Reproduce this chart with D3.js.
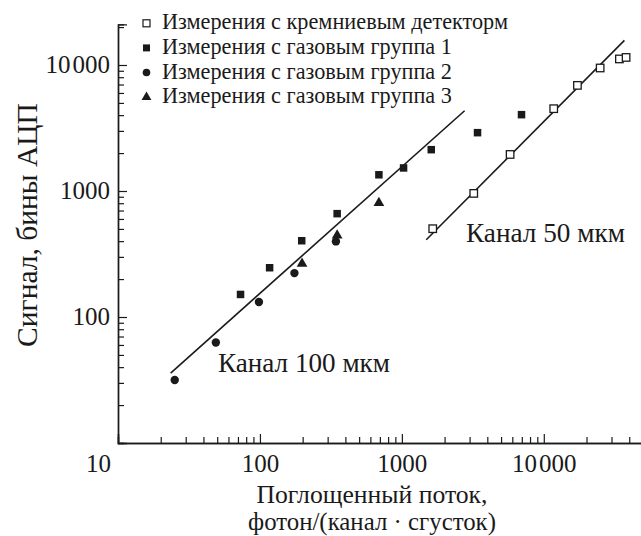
<!DOCTYPE html>
<html>
<head>
<meta charset="utf-8">
<script src="https://cdn.jsdelivr.net/npm/d3@7"></script>
<style>
  html, body { margin: 0; padding: 0; background: #fff; }
  svg { display: block; }
  svg text { font-family: "Liberation Serif", "Times New Roman", Times, serif !important; fill: #1a1a1a; }
</style>
</head>
<body>
<svg id="chart" width="641" height="536"></svg>
<script>
// Silicon detector measurements (open squares)
const siliconX = [1650, 3210, 5790, 11750, 17260, 24950, 34100, 38000];
const siliconY = [502, 957, 1950, 4500, 6890, 9470, 11170, 11480];
// Gas detector, group 1 (filled squares)
const gas1X = [73, 117, 197, 350, 689, 1028, 1611, 3413, 6966];
const gas1Y = [151, 246, 403, 661, 1345, 1524, 2128, 2904, 4035];
// Gas detector, group 2 (filled circles)
const gas2X = [25.1, 48.9, 98.4, 175, 343];
const gas2Y = [31.6, 62.8, 131.5, 223, 398];
// Gas detector, group 3 (filled triangles)
const gas3X = [198, 350, 689];
const gas3Y = [265, 444, 803];
// Fit lines: endpoints for the 100 um and 50 um channels
const fit100X = [23.5, 2767];
const fit100Y = [35.9, 4335];
const fit50X = [1486, 36980];
const fit50Y = [410, 15670];

const legendLabels = [
  "Измерения с кремниевым детекторм",
  "Измерения с газовым группа 1",
  "Измерения с газовым группа 2",
  "Измерения с газовым группа 3"
];
const xTickValues = [10, 100, 1000, 10000];
const xTickLabels = ["10", "100", "1000", "10\u200A000"];
const yTickValues = [100, 1000, 10000];
const yTickLabels = ["100", "1000", "10\u200A000"];
const xTitle = ["Поглощенный поток,", "фотон/(канал · сгусток)"];
const yTitle = "Сигнал, бины АЦП";
const channelLabels = ["Канал 100 мкм", "Канал 50 мкм"];

const svg = d3.select("#chart");
const ink = "#1a1a1a";

const x = d3.scaleLog().domain([10, 50000]).range([118, 643]);
const y = d3.scaleLog().domain([10, 21000]).range([443, 24.4]);

// Sets the font size of a text node so that its run spans the given width
function sizeToWidth(sel, width) {
  sel.each(function () {
    this.style.fontSize = "20px";
    const len = this.getComputedTextLength();
    if (len > 0) this.style.fontSize = (20 * width / len).toFixed(2) + "px";
  });
  return sel;
}

function minorTicks(lo, hi) {
  const out = [];
  for (let d = 1; d <= 1e5; d *= 10)
    for (let k = 2; k <= 9; k++) {
      const v = k * d;
      if (v > lo && v < hi) out.push(v);
    }
  return out;
}

// X axis: minor ticks, then major ticks with labels
const gx = svg.append("g").attr("transform", "translate(0,443)");
gx.append("g").call(d3.axisBottom(x).tickValues(minorTicks(10, 50000)).tickSize(-6).tickFormat(""));
gx.append("g").call(d3.axisBottom(x).tickValues(xTickValues).tickSize(-9).tickPadding(11)
  .tickFormat((d, i) => xTickLabels[i]));
gx.selectAll("path.domain").attr("stroke", ink).attr("stroke-width", 1.4);
gx.selectAll(".tick line").attr("stroke", ink).attr("stroke-width", 1.2);
gx.selectAll("text").style("font-size", "25px").attr("fill", ink);
gx.selectAll("g.tick").filter(d => d === 10).select("text").attr("dx", -20);

// Y axis
const gy = svg.append("g").attr("transform", "translate(118,0)");
gy.append("g").call(d3.axisLeft(y).tickValues(minorTicks(10, 21000)).tickSize(-6).tickFormat(""));
gy.append("g").call(d3.axisLeft(y).tickValues(yTickValues).tickSize(-9).tickPadding(8)
  .tickFormat((d, i) => yTickLabels[i]));
gy.selectAll("path.domain").attr("stroke", ink).attr("stroke-width", 1.4);
gy.selectAll(".tick line").attr("stroke", ink).attr("stroke-width", 1.2);
gy.selectAll("text").style("font-size", "25px").attr("fill", ink);

// Axis titles
const xt = svg.append("g").selectAll("text").data(xTitle).join("text")
  .attr("x", 372).attr("y", (d, i) => [503, 530][i])
  .attr("text-anchor", "middle").text(d => d);
sizeToWidth(xt.filter((d, i) => i === 0), 231);
sizeToWidth(xt.filter((d, i) => i === 1), 248);
sizeToWidth(svg.append("text")
  .attr("transform", "translate(37,225) rotate(-90)")
  .attr("text-anchor", "middle").text(yTitle), 244);

// Fit lines
const line = d3.line().x(d => x(d[0])).y(d => y(d[1]));
[[fit100X, fit100Y], [fit50X, fit50Y]].forEach(([xs, ys]) => {
  svg.append("path").datum(xs.map((v, i) => [v, ys[i]]))
    .attr("d", line).attr("fill", "none").attr("stroke", ink).attr("stroke-width", 1.6);
});

// Markers
const sq = 7.5;
svg.append("g").selectAll("rect").data(siliconX.map((v, i) => [v, siliconY[i]])).join("rect")
  .attr("x", d => x(d[0]) - sq / 2).attr("y", d => y(d[1]) - sq / 2)
  .attr("width", sq).attr("height", sq)
  .attr("fill", "#fff").attr("stroke", ink).attr("stroke-width", 1.3);
svg.append("g").selectAll("rect").data(gas1X.map((v, i) => [v, gas1Y[i]])).join("rect")
  .attr("x", d => x(d[0]) - sq / 2).attr("y", d => y(d[1]) - sq / 2)
  .attr("width", sq).attr("height", sq).attr("fill", ink);
svg.append("g").selectAll("circle").data(gas2X.map((v, i) => [v, gas2Y[i]])).join("circle")
  .attr("cx", d => x(d[0])).attr("cy", d => y(d[1])).attr("r", 4.2).attr("fill", ink);
const tri = d3.symbol().type(d3.symbolTriangle).size(50);
svg.append("g").selectAll("path").data(gas3X.map((v, i) => [v, gas3Y[i]])).join("path")
  .attr("transform", d => `translate(${x(d[0])},${y(d[1])})`).attr("d", tri).attr("fill", ink);

// Channel labels
sizeToWidth(svg.append("text").attr("x", 218).attr("y", 372).text(channelLabels[0]), 172);
sizeToWidth(svg.append("text").attr("x", 466).attr("y", 242).text(channelLabels[1]), 159);

// Legend
const lg = svg.append("g");
const rowY = i => 23.3 + i * 24.6;
lg.append("rect").attr("x", 143).attr("y", rowY(0) - 3.5).attr("width", 7).attr("height", 7)
  .attr("fill", "#fff").attr("stroke", ink).attr("stroke-width", 1.2);
lg.append("rect").attr("x", 143).attr("y", rowY(1) - 3.5).attr("width", 7).attr("height", 7).attr("fill", ink);
lg.append("circle").attr("cx", 146.5).attr("cy", rowY(2)).attr("r", 3.8).attr("fill", ink);
lg.append("path").attr("transform", `translate(146.5,${rowY(3)})`)
  .attr("d", d3.symbol().type(d3.symbolTriangle).size(42)).attr("fill", ink);
const lt = lg.selectAll("text").data(legendLabels).join("text")
  .attr("x", 162).attr("y", (d, i) => rowY(i) + 6).text(d => d);
sizeToWidth(lt.filter((d, i) => i === 0), 346);
lt.filter((d, i) => i > 0).style("font-size", lt.node().style.fontSize);
</script>
</body>
</html>
